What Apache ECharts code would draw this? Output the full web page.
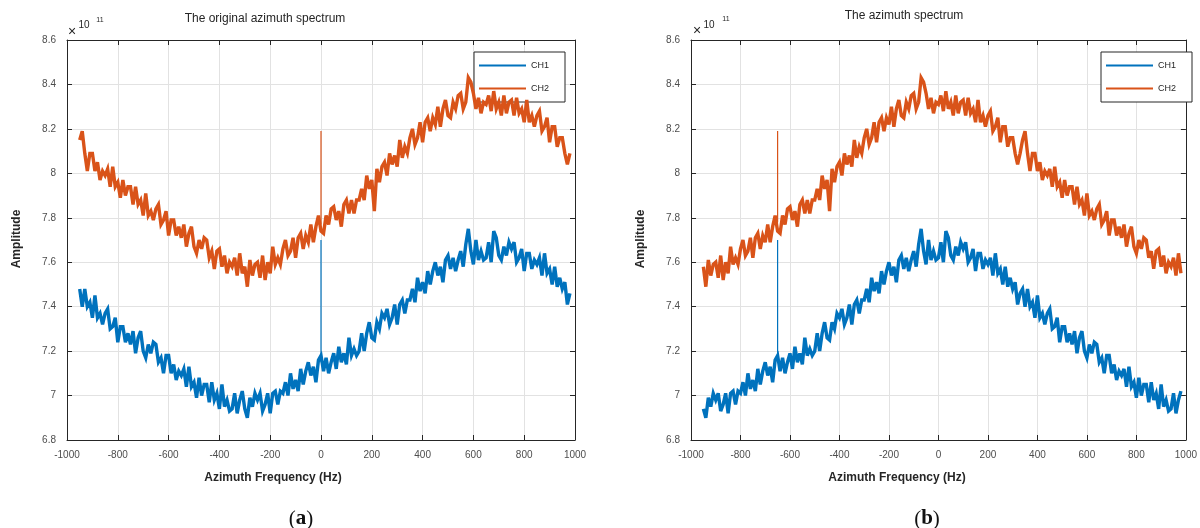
<!DOCTYPE html>
<html><head><meta charset="utf-8">
<script src="https://cdn.jsdelivr.net/npm/echarts/dist/echarts.min.js"></script>
<style>html,body{margin:0;padding:0;background:#fff}#c{width:1200px;height:528px}</style>
</head><body><div id="c"></div><script>
// ---------- data (amplitude in units of 1e11) ----------
const freqHz = [
-950,-940,-930,-920,-910,-900,-890,-880,-870,-860,
-850,-840,-830,-820,-810,-800,-790,-780,-770,-760,
-750,-740,-730,-720,-710,-700,-690,-680,-670,-660,
-650,-640,-630,-620,-610,-600,-590,-580,-570,-560,
-550,-540,-530,-520,-510,-500,-490,-480,-470,-460,
-450,-440,-430,-420,-410,-400,-390,-380,-370,-360,
-350,-340,-330,-320,-310,-300,-290,-280,-270,-260,
-250,-240,-230,-220,-210,-200,-190,-180,-170,-160,
-150,-140,-130,-120,-110,-100,-90,-80,-70,-60,
-50,-40,-30,-20,-10,0,10,20,30,40,
50,60,70,80,90,100,110,120,130,140,
150,160,170,180,190,200,210,220,230,240,
250,260,270,280,290,300,310,320,330,340,
350,360,370,380,390,400,410,420,430,440,
450,460,470,480,490,500,510,520,530,540,
550,560,570,580,590,600,610,620,630,640,
650,660,670,680,690,700,710,720,730,740,
750,760,770,780,790,800,810,820,830,840,
850,860,870,880,890,900,910,920,930,940,
950,960,970,980];

// (a) original azimuth spectrum
const origCh1 = [
7.48,7.40,7.48,7.40,7.42,7.35,7.45,7.35,7.37,7.32,
7.37,7.39,7.30,7.31,7.35,7.24,7.31,7.31,7.24,7.28,
7.23,7.29,7.19,7.26,7.29,7.20,7.17,7.23,7.19,7.24,
7.23,7.15,7.17,7.10,7.18,7.18,7.10,7.14,7.07,7.11,
7.09,7.12,7.04,7.13,7.04,7.06,6.99,7.08,7.00,7.05,
7.05,6.97,7.06,6.98,7.01,6.94,7.05,6.95,6.98,6.93,
6.94,7.01,6.92,6.98,7.02,6.94,6.90,6.99,6.95,7.01,
6.98,7.01,6.93,6.96,7.01,6.92,7.01,7.02,6.96,7.02,
7.01,7.06,7.00,7.10,7.03,7.07,7.02,7.12,7.05,7.11,
7.15,7.09,7.13,7.06,7.16,7.18,7.11,7.17,7.10,7.15,
7.19,7.12,7.22,7.15,7.19,7.14,7.26,7.18,7.21,7.18,
7.20,7.28,7.20,7.28,7.33,7.26,7.25,7.33,7.30,7.37,
7.35,7.39,7.32,7.35,7.41,7.32,7.41,7.43,7.37,7.43,
7.43,7.48,7.42,7.53,7.47,7.51,7.46,7.56,7.50,7.56,
7.60,7.54,7.58,7.51,7.61,7.63,7.57,7.62,7.56,7.61,
7.65,7.58,7.68,7.75,7.65,7.59,7.70,7.61,7.65,7.61,
7.62,7.69,7.60,7.74,7.71,7.63,7.61,7.67,7.63,7.69,
7.66,7.69,7.60,7.62,7.66,7.56,7.64,7.64,7.57,7.61,
7.59,7.62,7.54,7.64,7.55,7.57,7.50,7.58,7.49,7.53,
7.48,7.51,7.41,7.46];
const origCh2 = [
8.15,8.19,8.09,8.01,8.09,8.09,8.01,8.05,7.97,8.01,
7.99,8.02,7.94,8.03,7.94,7.96,7.89,7.97,7.90,7.94,
7.94,7.86,7.94,7.86,7.88,7.81,7.91,7.81,7.83,7.79,
7.84,7.86,7.77,7.79,7.83,7.72,7.79,7.79,7.72,7.76,
7.71,7.77,7.67,7.73,7.76,7.67,7.64,7.70,7.66,7.71,
7.70,7.62,7.65,7.57,7.65,7.66,7.58,7.63,7.55,7.60,
7.58,7.62,7.54,7.64,7.55,7.58,7.49,7.61,7.54,7.59,
7.60,7.53,7.63,7.52,7.60,7.55,7.67,7.59,7.62,7.59,
7.66,7.70,7.63,7.65,7.71,7.62,7.71,7.73,7.66,7.72,
7.69,7.77,7.69,7.76,7.81,7.74,7.73,7.81,7.77,7.84,
7.85,7.79,7.83,7.76,7.86,7.88,7.82,7.88,7.82,7.88,
7.88,7.93,7.88,7.99,7.93,7.97,7.83,8.02,7.96,8.03,
8.05,7.99,8.09,8.04,8.08,8.03,8.15,8.07,8.12,8.09,
8.16,8.20,8.13,8.16,8.23,8.14,8.23,8.25,8.19,8.25,
8.22,8.30,8.21,8.29,8.33,8.26,8.25,8.32,8.29,8.35,
8.36,8.29,8.32,8.43,8.41,8.36,8.29,8.34,8.27,8.32,
8.31,8.35,8.28,8.37,8.29,8.32,8.26,8.35,8.27,8.32,
8.33,8.26,8.34,8.27,8.29,8.23,8.33,8.23,8.26,8.21,
8.26,8.28,8.19,8.21,8.25,8.14,8.21,8.21,8.12,8.16,
8.16,8.09,8.04,8.09];

// (b) azimuth spectrum
const specCh1 = [
6.94,6.90,6.99,6.95,7.01,6.98,7.01,6.93,6.96,7.01,
6.92,7.01,7.02,6.96,7.02,7.01,7.06,7.00,7.10,7.03,
7.07,7.02,7.12,7.05,7.11,7.15,7.09,7.13,7.06,7.16,
7.18,7.11,7.17,7.10,7.15,7.19,7.12,7.22,7.15,7.19,
7.14,7.26,7.18,7.21,7.18,7.20,7.28,7.20,7.28,7.33,
7.26,7.25,7.33,7.30,7.37,7.35,7.39,7.32,7.35,7.41,
7.32,7.41,7.43,7.37,7.43,7.43,7.48,7.42,7.53,7.47,
7.51,7.46,7.56,7.50,7.56,7.60,7.54,7.58,7.51,7.61,
7.63,7.57,7.62,7.56,7.61,7.65,7.58,7.68,7.75,7.65,
7.59,7.70,7.61,7.65,7.61,7.62,7.69,7.60,7.74,7.71,
7.63,7.61,7.67,7.63,7.69,7.66,7.69,7.60,7.62,7.66,
7.56,7.64,7.64,7.57,7.61,7.59,7.62,7.54,7.64,7.55,
7.57,7.50,7.58,7.49,7.53,7.48,7.51,7.41,7.46,7.48,
7.40,7.48,7.40,7.42,7.35,7.45,7.35,7.37,7.32,7.37,
7.39,7.30,7.31,7.35,7.24,7.31,7.31,7.24,7.28,7.23,
7.29,7.19,7.26,7.29,7.20,7.17,7.23,7.19,7.24,7.23,
7.15,7.17,7.10,7.18,7.18,7.10,7.14,7.07,7.11,7.09,
7.12,7.04,7.13,7.04,7.06,6.99,7.08,7.00,7.05,7.05,
6.97,7.06,6.98,7.01,6.94,7.05,6.95,6.98,6.93,6.94,
7.01,6.92,6.98,7.02];
const specCh2 = [
7.58,7.49,7.61,7.54,7.59,7.60,7.53,7.63,7.52,7.60,
7.55,7.67,7.59,7.62,7.59,7.66,7.70,7.63,7.65,7.71,
7.62,7.71,7.73,7.66,7.72,7.69,7.77,7.69,7.76,7.81,
7.74,7.73,7.81,7.77,7.84,7.85,7.79,7.83,7.76,7.86,
7.88,7.82,7.88,7.82,7.88,7.88,7.93,7.88,7.99,7.93,
7.97,7.83,8.02,7.96,8.03,8.05,7.99,8.09,8.04,8.08,
8.03,8.15,8.07,8.12,8.09,8.16,8.20,8.13,8.16,8.23,
8.14,8.23,8.25,8.19,8.25,8.22,8.30,8.21,8.29,8.33,
8.26,8.25,8.32,8.29,8.35,8.36,8.29,8.32,8.43,8.41,
8.36,8.29,8.34,8.27,8.32,8.31,8.35,8.28,8.37,8.29,
8.32,8.26,8.35,8.27,8.32,8.33,8.26,8.34,8.27,8.29,
8.23,8.33,8.23,8.26,8.21,8.26,8.28,8.19,8.21,8.25,
8.14,8.21,8.21,8.12,8.16,8.16,8.09,8.04,8.09,8.15,
8.19,8.09,8.01,8.09,8.09,8.01,8.05,7.97,8.01,7.99,
8.02,7.94,8.03,7.94,7.96,7.89,7.97,7.90,7.94,7.94,
7.86,7.94,7.86,7.88,7.81,7.91,7.81,7.83,7.79,7.84,
7.86,7.77,7.79,7.83,7.72,7.79,7.79,7.72,7.76,7.71,
7.77,7.67,7.73,7.76,7.67,7.64,7.70,7.66,7.71,7.70,
7.62,7.65,7.57,7.65,7.66,7.58,7.63,7.55,7.60,7.58,
7.62,7.54,7.64,7.55];

// narrow spike lines: [frequency, base, top]
const origSpikeCh1 = [0, 7.15, 7.70];
const origSpikeCh2 = [0, 7.77, 8.19];
const specSpikeCh1 = [-650, 7.16, 7.70];
const specSpikeCh2 = [-650, 7.78, 8.19];

const seriesNames = ['CH1', 'CH2'];
const xTicks = {min: -1000, max: 1000, interval: 200};
const yTicks = {min: 6.8, max: 8.6, interval: 0.2};
const panelTitles = ['The original azimuth spectrum', 'The azimuth spectrum'];
const panelTags = ['a', 'b'];
const xName = 'Azimuth Frequency (Hz)';
const yName = 'Amplitude';

// ---------- chart ----------
const FONT = '"Liberation Sans", Arial, Helvetica, sans-serif';
const DARK = '#262626';
const COLORS = ['#0072BD', '#D95319'];
const pairs = (xs, ys) => xs.map((x, i) => [x, ys[i]]);
const spike = s => [[s[0], s[1]], [s[0], s[2]]];

function xAxes(g) {
  const base = {type: 'value', gridIndex: g, min: xTicks.min, max: xTicks.max, interval: xTicks.interval,
    axisLine: {onZero: false, lineStyle: {color: DARK, width: 1}},
    axisTick: {inside: true, length: 5, lineStyle: {color: DARK}}};
  return [
    Object.assign({}, base, {position: 'bottom',
      axisLabel: {color: '#4d4d4d', fontSize: 10, margin: 10, fontFamily: FONT, formatter: v => String(v)},
      splitLine: {show: true, lineStyle: {color: '#e2e2e2', width: 1}}}),
    Object.assign({}, base, {position: 'top', axisLabel: {show: false}, splitLine: {show: false}})
  ];
}
function yAxes(g) {
  const base = {type: 'value', gridIndex: g, min: yTicks.min, max: yTicks.max, interval: yTicks.interval,
    axisLine: {onZero: false, lineStyle: {color: DARK, width: 1}},
    axisTick: {inside: true, length: 5, lineStyle: {color: DARK}}};
  return [
    Object.assign({}, base, {position: 'left',
      axisLabel: {color: '#4d4d4d', fontSize: 10, margin: 11, fontFamily: FONT,
        formatter: v => String(+v.toFixed(1))},
      splitLine: {show: true, lineStyle: {color: '#e2e2e2', width: 1}}}),
    Object.assign({}, base, {position: 'right', axisLabel: {show: false}, splitLine: {show: false}})
  ];
}
function lineSeries(name, xi, yi, data, color, z, w) {
  return {name, type: 'line', xAxisIndex: xi, yAxisIndex: yi, data, showSymbol: false, symbol: 'none',
    animation: false, z, lineStyle: {color, width: w, join: 'miter', miterLimit: 4}, itemStyle: {color},
    emphasis: {disabled: true}};
}
function legend(left) {
  return {left, top: 52, orient: 'vertical', data: seriesNames, icon: 'rect', itemWidth: 47, itemHeight: 2,
    itemGap: 8, padding: [6, 16, 6, 5], borderColor: DARK, borderWidth: 1, backgroundColor: '#fff',
    selectedMode: false, textStyle: {fontSize: 9, color: DARK, fontFamily: FONT, lineHeight: 11, padding: [0, 0, 4, 0]}};
}
function txt(x, y, text, size, opts) {
  return Object.assign({type: 'text', x, y, style: Object.assign({text, fill: DARK, fontSize: size,
    fontFamily: FONT, textAlign: 'center', textVerticalAlign: 'middle'}, (opts && opts.style) || {})},
    opts && opts.rotation ? {rotation: opts.rotation} : {});
}
function tag(x, letter) {
  return {type: 'text', x, y: 519, style: {
    text: '(' + '{b|' + letter + '})', rich: {b: {fontWeight: 'bold', fontSize: 21, fontFamily: '"Liberation Serif", serif', fill: '#111'}},
    fontSize: 21, fontFamily: '"Liberation Serif", serif', fill: '#111', textAlign: 'center', textVerticalAlign: 'middle'}};
}

const chart = echarts.init(document.getElementById('c'), null, {renderer: 'canvas'});
const LW = 3.4;
chart.setOption({
  animation: false,
  backgroundColor: '#fff',
  grid: [
    {left: 67, top: 40, width: 508, height: 400},
    {left: 691, top: 40, width: 508, height: 400}
  ],
  xAxis: [...xAxes(0), ...xAxes(1)],
  yAxis: [...yAxes(0), ...yAxes(1)],
  legend: [legend(474), legend(1101)],
  series: [
    lineSeries(seriesNames[0], 0, 0, pairs(freqHz, origCh1), COLORS[0], 2, LW),
    lineSeries(seriesNames[0], 0, 0, spike(origSpikeCh1), COLORS[0], 3, 1.2),
    lineSeries(seriesNames[1], 0, 0, pairs(freqHz, origCh2), COLORS[1], 4, LW),
    lineSeries(seriesNames[1], 0, 0, spike(origSpikeCh2), COLORS[1], 5, 1.2),
    lineSeries(seriesNames[0], 2, 2, pairs(freqHz, specCh1), COLORS[0], 2, LW),
    lineSeries(seriesNames[0], 2, 2, spike(specSpikeCh1), COLORS[0], 3, 1.2),
    lineSeries(seriesNames[1], 2, 2, pairs(freqHz, specCh2), COLORS[1], 4, LW),
    lineSeries(seriesNames[1], 2, 2, spike(specSpikeCh2), COLORS[1], 5, 1.2)
  ],
  graphic: [
    txt(265, 19, panelTitles[0], 12),
    txt(904, 16, panelTitles[1], 12),
    txt(72, 32, '\u00d7', 14),
    txt(84, 25, '10', 10),
    txt(100, 20, '11', 7),
    txt(697, 31, '\u00d7', 14),
    txt(709, 25, '10', 10),
    txt(726, 19, '11', 7),
    txt(273, 478, xName, 12, {style: {fontWeight: 'bold'}}),
    txt(897, 478, xName, 12, {style: {fontWeight: 'bold'}}),
    txt(17, 239, yName, 12, {style: {fontWeight: 'bold'}, rotation: Math.PI / 2}),
    txt(641, 239, yName, 12, {style: {fontWeight: 'bold'}, rotation: Math.PI / 2}),
    tag(301, panelTags[0]),
    tag(927, panelTags[1])
  ]
});
</script></body></html>
